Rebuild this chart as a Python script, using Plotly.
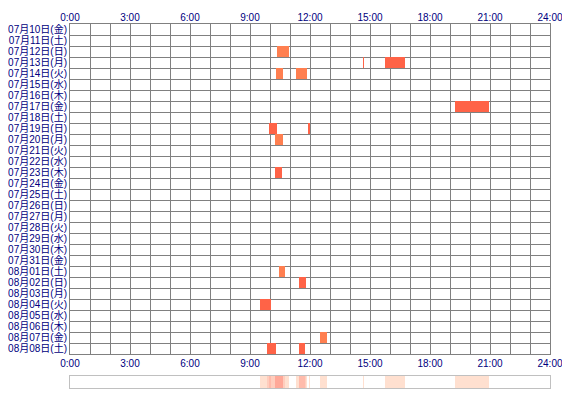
import numpy as np
import plotly.graph_objects as go

# row labels (one per day)
day_labels = [
    "07月10日(金)", "07月11日(土)", "07月12日(日)", "07月13日(月)", "07月14日(火)",
    "07月15日(水)", "07月16日(木)", "07月17日(金)", "07月18日(土)", "07月19日(日)",
    "07月20日(月)", "07月21日(火)", "07月22日(水)", "07月23日(木)", "07月24日(金)",
    "07月25日(土)", "07月26日(日)", "07月27日(月)", "07月28日(火)", "07月29日(水)",
    "07月30日(木)", "07月31日(金)", "08月01日(土)", "08月02日(日)", "08月03日(月)",
    "08月04日(火)", "08月05日(水)", "08月06日(木)", "08月07日(金)", "08月08日(土)",
]
hour_ticks = [0, 3, 6, 9, 12, 15, 18, 21, 24]
hour_labels = ["0:00", "3:00", "6:00", "9:00", "12:00", "15:00", "18:00", "21:00", "24:00"]

# activity blocks: day row, start hour, end hour, level (1 = light, 2 = strong)
bar_day = [2, 3, 3, 4, 4, 7, 9, 9, 10, 13, 22, 23, 25, 28, 29, 29]
bar_start = [10.33, 14.65, 15.75, 10.30, 11.30, 19.25, 9.95, 11.93, 10.25, 10.25,
             10.45, 11.45, 9.50, 12.50, 9.85, 11.45]
bar_end = [10.95, 14.70, 16.75, 10.65, 11.85, 20.95, 10.35, 11.98, 10.65, 10.60,
           10.75, 11.80, 10.05, 12.85, 10.30, 11.75]
bar_level = [1, 2, 2, 1, 1, 2, 2, 2, 1, 2, 1, 2, 2, 1, 2, 2]

level_colors = {1: "#FF7F50", 2: "#FF6347"}
navy = "#000080"
font_family = "Liberation Sans, Noto Sans CJK JP, sans-serif"

fig = go.Figure()

fig.add_trace(go.Bar(
    orientation="h",
    y=[d + 0.5 for d in bar_day],
    base=bar_start,
    x=[e - s for s, e in zip(bar_start, bar_end)],
    width=1.0,
    marker=dict(color=[level_colors[l] for l in bar_level], line=dict(width=0)),
    hoverinfo="skip",
    showlegend=False,
))

# summary strip: how many blocks cover each minute of the day
minutes = np.arange(0, 1440) + 0.5
counts = np.zeros(len(minutes))
for s, e in zip(bar_start, bar_end):
    counts += ((minutes / 60 >= s) & (minutes / 60 < e)).astype(float)

fig.add_trace(go.Heatmap(
    x=minutes / 60,
    y=[0],
    z=[counts],
    zmin=0,
    zmax=4,
    colorscale=[[0, "#FFFFFF"], [0.25, "#FFE0D0"], [1, "#FFA898"]],
    showscale=False,
    hoverinfo="skip",
    xaxis="x2",
    yaxis="y2",
))

# invisible trace to carry the top hour axis
fig.add_trace(go.Scatter(x=[0, 24], y=[0, 0], mode="markers", marker=dict(opacity=0),
                         xaxis="x3", yaxis="y", hoverinfo="skip", showlegend=False))

grid = "#808080"
# page body adds 8px around the figure, so the figure is 8px smaller
fig.update_layout(
    width=562,
    height=392,
    margin=dict(l=62, r=20, t=16, b=12),
    paper_bgcolor="white",
    plot_bgcolor="white",
    font=dict(family=font_family, size=10, color=navy),
    bargap=0,
    xaxis=dict(
        range=[0, 24], domain=[0, 1], anchor="y", automargin=False,
        tickvals=hour_ticks, ticktext=hour_labels, ticks="",
        showgrid=True, gridcolor=grid, gridwidth=1,
        minor=dict(dtick=1, tick0=0, showgrid=True, gridcolor=grid, gridwidth=1),
        showline=True, linecolor=grid, linewidth=1, mirror=True,
        zeroline=False, fixedrange=True,
    ),
    xaxis3=dict(
        range=[0, 24], overlaying="x", side="top", anchor="y", automargin=False,
        tickvals=hour_ticks, ticktext=hour_labels, ticks="",
        showgrid=False, zeroline=False, fixedrange=True,
    ),
    yaxis=dict(
        range=[30, 0], domain=[0.0934, 1], anchor="x", automargin=False,
        tickvals=[i + 0.5 for i in range(len(day_labels))], ticktext=day_labels,
        ticks="", showgrid=False,
        minor=dict(dtick=1, tick0=0, showgrid=True, gridcolor=grid, gridwidth=1),
        showline=True, linecolor=grid, linewidth=1, mirror=True,
        zeroline=False, fixedrange=True,
    ),
    xaxis2=dict(
        range=[0, 24], domain=[0, 1], anchor="y2", automargin=False,
        showticklabels=False, ticks="", showgrid=False, zeroline=False,
        showline=True, linecolor="#C0C0C0", linewidth=1, mirror=True,
    ),
    yaxis2=dict(
        range=[-0.5, 0.5], domain=[0, 0.033], anchor="x2", automargin=False,
        showticklabels=False, ticks="", showgrid=False, zeroline=False,
        showline=True, linecolor="#C0C0C0", linewidth=1, mirror=True,
    ),
)

fig.write_html("out.html")
